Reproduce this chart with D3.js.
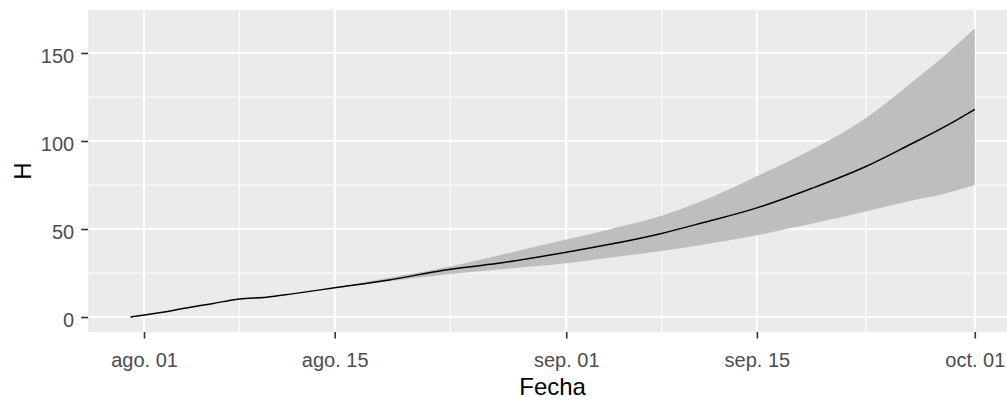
<!DOCTYPE html>
<html lang="es">
<head>
<meta charset="utf-8">
<title>H por fecha</title>
<script src="https://cdn.jsdelivr.net/npm/d3@7"></script>
<style>
body { margin: 0; background: #fff; }
svg { display: block; font-family: "Liberation Sans", Arial, sans-serif; }
.grid-major { stroke: #fff; stroke-width: 2.1px; }
.grid-minor { stroke: #fff; stroke-width: 1.1px; }
.axis text { fill: #4d4d4d; font-size: 20px; font-family: "Liberation Sans", Arial, sans-serif; }
.axis line { stroke: #333; stroke-width: 1.6px; }
.axis path { display: none; }
.axis-title { font-size: 24px; fill: #000; }
</style>
</head>
<body>
<div id="chart"></div>
<script>
// serie observada y ajustada
var lineDates = ["2020-07-31", "2020-08-02", "2020-08-04", "2020-08-06", "2020-08-08", "2020-08-10",
  "2020-08-12", "2020-08-15", "2020-08-19", "2020-08-23", "2020-08-27", "2020-09-01", "2020-09-04",
  "2020-09-08", "2020-09-11", "2020-09-15", "2020-09-19", "2020-09-23", "2020-09-26", "2020-09-29", "2020-10-01"];
var lineValues = [0, 2.3, 5, 7.6, 10.3, 11.2, 13.3, 16.6, 21, 26.6, 30.5, 36.8, 41, 47.5, 53.5, 62, 73, 85.5, 97, 109, 118];

// intervalo de la proyeccion
var bandDates = ["2020-08-14", "2020-08-19", "2020-08-23", "2020-08-27", "2020-09-01", "2020-09-04", "2020-09-08",
  "2020-09-11", "2020-09-15", "2020-09-19", "2020-09-23", "2020-09-26", "2020-09-29", "2020-10-01"];
var bandLower = [15.6, 20.3, 24, 27, 30.5, 33.5, 37.5, 41, 46.5, 53, 60, 65.5, 70.5, 75];
var bandUpper = [15.6, 22.3, 28, 35, 44, 49.5, 57.5, 66, 80, 95, 113, 131, 150, 164];

var xTickDates = ["2020-08-01", "2020-08-15", "2020-09-01", "2020-09-15", "2020-10-01"];
var xTickLabels = ["ago. 01", "ago. 15", "sep. 01", "sep. 15", "oct. 01"];
var yTicks = [0, 50, 100, 150];
var yMinor = [25, 75, 125];

var width = 1007, height = 402;
var parse = d3.utcParse("%Y-%m-%d");

var line = lineDates.map(function(d, i) { return {date: parse(d), value: lineValues[i]}; });
var band = bandDates.map(function(d, i) { return {date: parse(d), lo: bandLower[i], hi: bandUpper[i]}; });
var ticks = xTickDates.map(parse);

var x = d3.scaleUtc()
  .domain(d3.extent(line, function(d) { return d.date; }))
  .range([130.4, 974.8]);
var xr = x.range(), pad = (xr[1] - xr[0]) * 0.05;
var panelLeft = xr[0] - pad, panelRight = xr[1] + pad;

var y = d3.scaleLinear()
  .domain([-8.5, 174.4])
  .range([332, 10]);

var svg = d3.select("#chart").append("svg")
  .attr("width", width)
  .attr("height", height);

svg.append("rect")
  .attr("x", panelLeft)
  .attr("y", y.range()[1])
  .attr("width", panelRight - panelLeft)
  .attr("height", y.range()[0] - y.range()[1])
  .attr("fill", "#ebebeb");

// grid lines
var xMinor = [];
for (var i = 0; i < ticks.length - 1; i++) xMinor.push((x(ticks[i]) + x(ticks[i + 1])) / 2);

svg.append("g").selectAll("line")
  .data(yMinor)
  .enter().append("line")
    .attr("class", "grid-minor")
    .attr("x1", panelLeft).attr("x2", panelRight)
    .attr("y1", function(d) { return y(d); }).attr("y2", function(d) { return y(d); });

svg.append("g").selectAll("line")
  .data(xMinor)
  .enter().append("line")
    .attr("class", "grid-minor")
    .attr("y1", y.range()[0]).attr("y2", y.range()[1])
    .attr("x1", function(d) { return d; }).attr("x2", function(d) { return d; });

svg.append("g").selectAll("line")
  .data(yTicks)
  .enter().append("line")
    .attr("class", "grid-major")
    .attr("x1", panelLeft).attr("x2", panelRight)
    .attr("y1", function(d) { return y(d); }).attr("y2", function(d) { return y(d); });

svg.append("g").selectAll("line")
  .data(ticks)
  .enter().append("line")
    .attr("class", "grid-major")
    .attr("y1", y.range()[0]).attr("y2", y.range()[1])
    .attr("x1", function(d) { return x(d); }).attr("x2", function(d) { return x(d); });

// ribbon + line
var area = d3.area()
  .curve(d3.curveMonotoneX)
  .x(function(d) { return x(d.date); })
  .y0(function(d) { return y(d.lo); })
  .y1(function(d) { return y(d.hi); });

svg.append("path")
  .datum(band)
  .attr("d", area)
  .attr("fill", "#bebebe");

var path = d3.line()
  .curve(d3.curveMonotoneX)
  .x(function(d) { return x(d.date); })
  .y(function(d) { return y(d.value); });

svg.append("path")
  .datum(line)
  .attr("d", path)
  .attr("fill", "none")
  .attr("stroke", "#000")
  .attr("stroke-width", 1.5);

// axes
svg.append("g")
  .attr("class", "axis")
  .attr("transform", "translate(0," + y.range()[0] + ")")
  .call(d3.axisBottom(x).tickValues(ticks)
    .tickFormat(function(d, i) { return xTickLabels[i]; })
    .tickSize(6.5).tickPadding(14.5));

svg.append("g")
  .attr("class", "axis")
  .attr("transform", "translate(" + panelLeft + ",0)")
  .call(d3.axisLeft(y).tickValues(yTicks).tickSize(7).tickPadding(7))
  .selectAll("text").attr("dy", "0.48em");

svg.append("text")
  .attr("class", "axis-title")
  .attr("text-anchor", "middle")
  .attr("x", (panelLeft + panelRight) / 2)
  .attr("y", 395)
  .text("Fecha");

svg.append("text")
  .attr("class", "axis-title")
  .attr("text-anchor", "middle")
  .attr("transform", "translate(31," + (y.range()[0] + y.range()[1]) / 2 + ")rotate(-90)")
  .text("H");
</script>
</body>
</html>
